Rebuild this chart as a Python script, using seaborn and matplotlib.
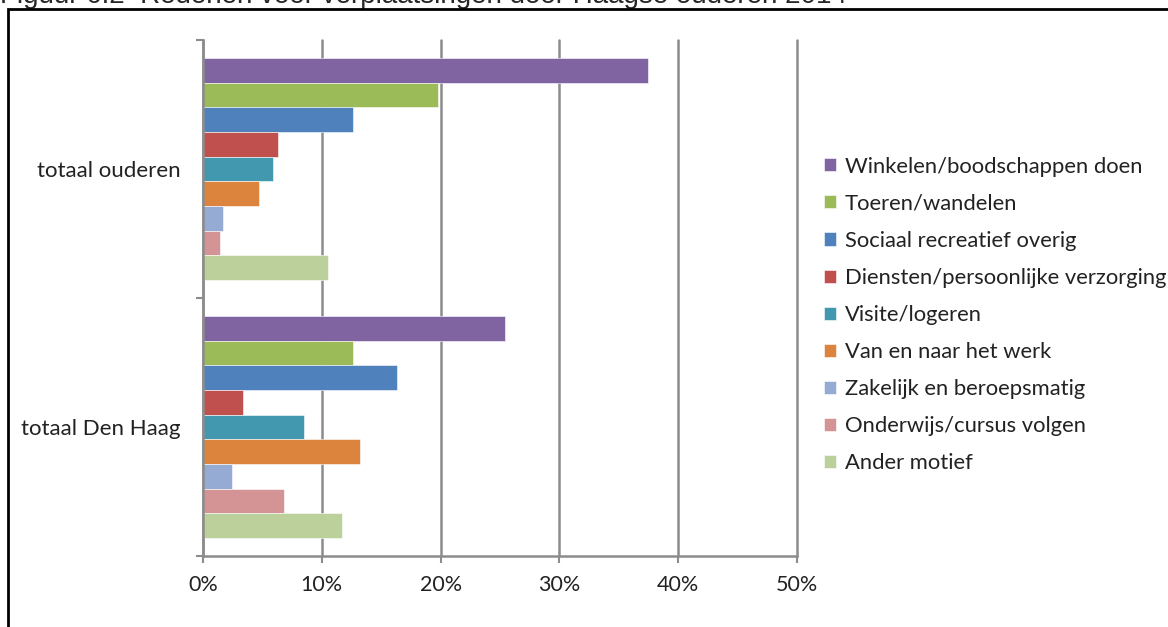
import pandas as pd
import numpy as np
import matplotlib
matplotlib.use("Agg")
import matplotlib.pyplot as plt
from matplotlib.patches import Rectangle
from matplotlib.ticker import FuncFormatter
import seaborn as sns

sns.set_style("white")
plt.rcParams['font.family'] = ['Lato', 'DejaVu Sans']

# data
groups = ['totaal ouderen', 'totaal Den Haag']
motieven = ['Winkelen/boodschappen doen', 'Toeren/wandelen', 'Sociaal recreatief overig',
            'Diensten/persoonlijke verzorging', 'Visite/logeren', 'Van en naar het werk',
            'Zakelijk en beroepsmatig', 'Onderwijs/cursus volgen', 'Ander motief']
ouderen = [37.5, 19.8, 12.6, 6.3, 5.9, 4.7, 1.7, 1.4, 10.5]
den_haag = [25.4, 12.6, 16.3, 3.4, 8.5, 13.2, 2.4, 6.8, 11.7]
kleuren = ['#8064A2', '#9BBB59', '#4F81BD', '#C0504D', '#4198AF',
           '#DC843E', '#95ABD3', '#D49394', '#BBD09A']

df = pd.DataFrame({
    'groep': [groups[0]] * len(motieven) + [groups[1]] * len(motieven),
    'motief': motieven * 2,
    'waarde': ouderen + den_haag,
})

fig = plt.figure(figsize=(11.68, 6.27), dpi=100)
ax = fig.add_axes([203 / 1168, 1 - 556 / 627, (797 - 203) / 1168, (556 - 40) / 627])

sns.barplot(data=df, x='waarde', y='groep', hue='motief', hue_order=motieven,
            order=groups, palette=kleuren, width=0.86, orient='h', ax=ax,
            saturation=1, edgecolor='white', linewidth=0.4, legend=True)

ax.set_xlim(0, 50)
ax.set_ylim(1.5, -0.5)
ax.set_xticks(np.arange(0, 51, 10))
ax.xaxis.set_major_formatter(FuncFormatter(lambda v, p: f"{v:.0f}%"))
ax.grid(axis='x', color='#8C8C8C', linewidth=1.8)
for gl in ax.get_xgridlines():
    gl.set_clip_on(False)
ax.set_axisbelow(True)
ax.set_xlabel('')
ax.set_ylabel('')

for s in ['top', 'right']:
    ax.spines[s].set_visible(False)
for s in ['left', 'bottom']:
    ax.spines[s].set_color('#8C8C8C')
    ax.spines[s].set_linewidth(1.8)

ax.tick_params(axis='x', direction='out', length=5, width=1.5, color='#8C8C8C',
               labelsize=15.5, pad=9, labelcolor='#222222', bottom=True)
ax.tick_params(axis='y', which='major', length=0, labelsize=16, pad=16, labelcolor='#222222')
ax.set_yticks([-0.5, 0.5, 1.5], minor=True)
ax.tick_params(axis='y', which='minor', direction='out', length=5, width=1.5,
               color='#8C8C8C', left=True)

handles, labels = ax.get_legend_handles_labels()
ax.legend(handles, labels, loc='center left', bbox_to_anchor=(804 / 1168, 1 - 315 / 627),
          bbox_transform=fig.transFigure, frameon=False, fontsize=15.8,
          handlelength=0.55, handleheight=0.55, handletextpad=0.4, labelspacing=0.78,
          labelcolor='#222222')

# figure frame and the clipped caption above it
fig.patches.append(Rectangle((8 / 1168, -0.1), 1.2, 1.1 - 9 / 627, transform=fig.transFigure,
                             fill=False, edgecolor='black', linewidth=2, figure=fig, zorder=5))
fig.text(0.0, 1 - 3 / 627, 'Figuur 6.2  Redenen voor verplaatsingen door Haagse ouderen 2014',
         fontsize=20, family='Liberation Sans', va='baseline', ha='left', zorder=0)

fig.savefig('out.png', dpi=100)
